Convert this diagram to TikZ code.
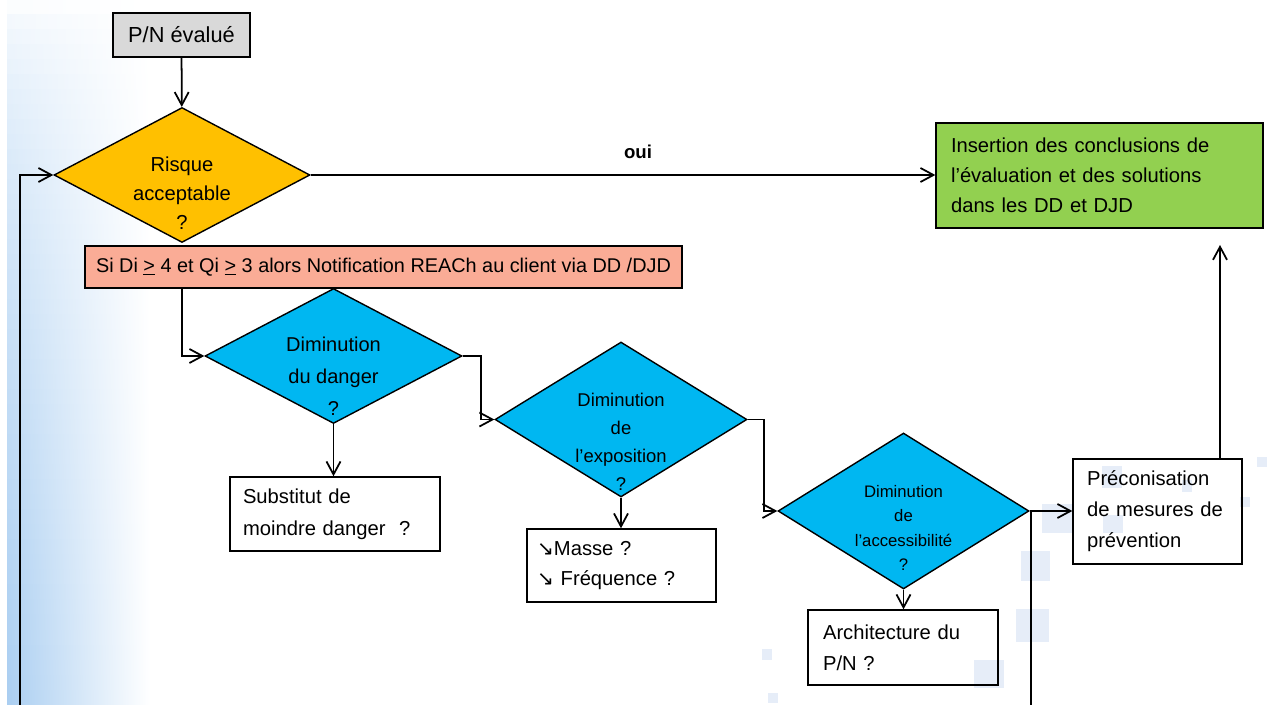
\documentclass[tikz,border=0pt]{standalone}
\usepackage{fontspec}
\setmainfont{Liberation Sans}
\newfontfamily\arrowfont{DejaVu Sans}
\usetikzlibrary{shapes.geometric}
\usetikzlibrary{arrows.meta}

\definecolor{pngray}{RGB}{217,217,217}
\definecolor{riskorange}{RGB}{255,192,0}
\definecolor{reachsalmon}{RGB}{250,172,150}
\definecolor{dimcyan}{RGB}{0,183,241}
\definecolor{conclgreen}{RGB}{146,208,80}
\definecolor{bgblue}{RGB}{170,206,241}
\definecolor{bgsquare}{RGB}{230,237,248}

\begin{document}
\begin{tikzpicture}[x=0.02cm,y=-0.02cm,line width=1pt,
  arr/.style={-{Straight Barb[length=2.6mm,width=2.8mm]}},
  dia/.style={diamond,draw,line width=0.8pt,inner sep=0pt},
  dtxt/.style={align=center,inner sep=0pt},
  box/.style={rectangle,draw,line width=0.8pt,inner ysep=0pt,align=left,font=\fontsize{11.5}{17.6}\selectfont}]
\useasboundingbox (0,0) rectangle (1268,705);
\fill[white] (0,0) rectangle (1268,705);
% background, fading towards the top
\foreach \y in {0,15,...,690}{
  \pgfmathtruncatemacro{\p}{5+95*(\y/690)^0.6}
  \shade[left color=bgblue!\p,right color=white] (7,\y) rectangle (150,\y+16);
}
\fill[bgsquare] (1257,457) rectangle (1267,467);
\fill[bgsquare] (1102,466) rectangle (1122,488);
\fill[bgsquare] (1182,480) rectangle (1192,492);
\fill[bgsquare] (1240,497) rectangle (1250,507);
\fill[bgsquare] (1042,504) rectangle (1072,533);
\fill[bgsquare] (1103,515) rectangle (1123,533);
\fill[bgsquare] (1021,551) rectangle (1050,581);
\fill[bgsquare] (1016,609) rectangle (1049,642);
\fill[bgsquare] (974,660) rectangle (1004,688);
\fill[bgsquare] (762,649) rectangle (772,660);
\fill[bgsquare] (768,693) rectangle (778,703);

% start and first test
\node[draw,line width=0.8pt,fill=pngray,minimum width=2.74cm,minimum height=0.88cm,font=\fontsize{12.4}{15}\selectfont] (pn) at (181.5,35) {P/N évalué};
\node[dia,fill=riskorange,minimum width=5.12cm,minimum height=2.7cm] (risk) at (182,175) {};
\node[dtxt,font=\fontsize{11.5}{16.5}\selectfont] (risktxt) at (182,193) {Risque\\acceptable\\?};
\node[draw,line width=0.8pt,fill=reachsalmon,minimum width=11.94cm,minimum height=0.84cm,font=\fontsize{11.3}{14}\selectfont] (reach) at (383.5,267) {Si Di \underline{>} 4 et Qi \underline{>} 3 alors Notification REACh au client via DD /DJD};
\node[box,fill=conclgreen,inner xsep=0.3cm,text width=5.94cm,minimum height=2.1cm,font=\fontsize{11.5}{17.1}\selectfont] (concl) at (1099.5,175.5) {Insertion des conclusions de\\l’évaluation et des solutions\\dans les DD et DJD};

% the three reductions
\node[dia,fill=dimcyan,minimum width=5.14cm,minimum height=2.7cm] (dang) at (333.5,356) {};
\node[dtxt,font=\fontsize{11.4}{18.2}\selectfont] (dangtxt) at (333.5,376) {Diminution\\du danger\\?};
\node[dia,fill=dimcyan,minimum width=5.04cm,minimum height=3.1cm] (expo) at (621,419.5) {};
\node[dtxt,font=\fontsize{10.5}{15.9}\selectfont] (expotxt) at (621,442) {Diminution\\de\\l’exposition\\?};
\node[dia,fill=dimcyan,minimum width=5.02cm,minimum height=3.12cm] (acc) at (903.5,511) {};
\node[dtxt,font=\fontsize{9.5}{13.9}\selectfont] (acctxt) at (903.5,528) {Diminution\\de\\l’accessibilité\\?};

\node[box,inner xsep=0.26cm,text width=3.68cm,minimum height=1.48cm,font=\fontsize{11.5}{18.2}\selectfont] (subst) at (335,514) {Substitut de\\moindre danger\ \ ?};
\node[box,inner xsep=0.2cm,text width=3.38cm,minimum height=1.46cm,font=\fontsize{11.5}{17.1}\selectfont] (masse) at (621.5,565.5) {{\arrowfont ↘}Masse ?\\{\arrowfont ↘} Fréquence ?};
\node[box,inner xsep=0.3cm,text width=3.2cm,minimum height=1.5cm] (archi) at (903,647.5) {Architecture du\\P/N ?};
\node[box,inner xsep=0.28cm,text width=2.82cm,minimum height=2.1cm] (preco) at (1157.5,511.5) {Préconisation\\de mesures de\\prévention};

\node[font=\fontsize{10.6}{13}\selectfont\bfseries] (oui) at (638,152) {oui};

% connectors
\coordinate (loopfoot) at (20,705);
\coordinate (accfoot) at (1031,705);
\coordinate (upend) at (1220,245);
\draw[arr] (pn) -- (risk);
\draw[arr] (loopfoot) |- (risk.west);
\draw[arr] (risk.east) -- (risk.east -| concl.west);
\draw[arr] (reach.south -| risk) |- (dang.west);
\draw[arr] (dang.east) -- ++(18,0) |- (expo.west);
\draw[arr] (expo.east) -- ++(16,0) |- (acc.west);
\draw[arr] (dang.south) -- (dang.south |- subst.north);
\draw[arr] (expo.south) -- (expo.south |- masse.north);
\draw[arr] (acc.south) -- (acc.south |- archi.north);
\draw[arr] (acc.east) -- (acc.east -| preco.west);
\draw (acc.east) -| (accfoot);
\draw[arr] (preco.north -| upend) -- (upend);

\end{tikzpicture}
\end{document}
